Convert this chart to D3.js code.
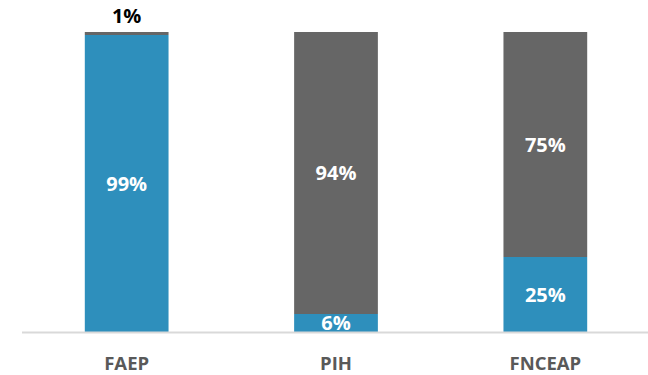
<!DOCTYPE html>
<html>
<head>
<meta charset="utf-8">
<script src="https://cdn.jsdelivr.net/npm/d3@7"></script>
<style>
  html, body { margin: 0; padding: 0; background: #fff; }
  svg { display: block; }
  text { font-family: "Open Sans", Lato, "Liberation Sans", sans-serif; font-weight: bold; }
</style>
</head>
<body>
<svg id="chart" width="648" height="375"></svg>
<script>
// Programme categories and their share split (percent)
const categories = ["FAEP", "PIH", "FNCEAP"];
const blueShare = [99, 6, 25];
const grayShare = [1, 94, 75];

const W = 648, H = 375;
const margin = { top: 32, right: -2, bottom: 43, left: 22 };
const svg = d3.select("#chart");

const x = d3.scaleBand()
  .domain(categories)
  .range([margin.left, W - margin.right])
  .paddingInner(0.6)
  .paddingOuter(0.3);

const y = d3.scaleLinear()
  .domain([0, 100])
  .range([H - margin.bottom, margin.top]);

const rows = categories.map((c, i) => ({ cat: c, blue: blueShare[i], gray: grayShare[i] }));
const stack = d3.stack().keys(["blue", "gray"])(rows);
const colors = { blue: "#2e8fbc", gray: "#666666" };

// Stacked segments
svg.append("g").selectAll("g")
  .data(stack)
  .join("g")
  .attr("fill", d => colors[d.key])
  .selectAll("rect")
  .data(d => d)
  .join("rect")
  .attr("x", d => x(d.data.cat))
  .attr("width", x.bandwidth())
  .attr("y", d => y(d[1]))
  .attr("height", d => y(d[0]) - y(d[1]));

// Baseline
svg.append("line")
  .attr("x1", margin.left).attr("x2", W)
  .attr("y1", y(0) + 0.5).attr("y2", y(0) + 0.5)
  .attr("stroke", "#d9d9d9").attr("stroke-width", 2);

// Category axis labels
const xAxis = d3.axisBottom(x).tickSize(0).tickPadding(25);
const gx = svg.append("g")
  .attr("transform", `translate(0,${y(0)})`)
  .call(xAxis);
gx.select(".domain").remove();
gx.selectAll("text")
  .attr("fill", "#595959")
  .style("font-size", "18.5px")
  .style("font-family", "'Open Sans', Lato, sans-serif")
  .style("font-weight", "bold");

// Value labels
const labels = [];
stack.forEach(layer => {
  layer.forEach(d => {
    const v = d.data[layer.key];
    labels.push({ cat: d.data.cat, v, y0: d[0], y1: d[1] });
  });
});

svg.append("g").selectAll("text")
  .data(labels)
  .join("text")
  .attr("x", d => x(d.cat) + x.bandwidth() / 2)
  .attr("y", d => d.v < 3 ? y(d.y1) - 16 : (y(d.y0) + y(d.y1)) / 2)
  .attr("dy", "0.36em")
  .attr("text-anchor", "middle")
  .attr("fill", d => d.v < 3 ? "#000" : "#fff")
  .style("font-size", "20px")
  .text(d => d.v + "%");
</script>
</body>
</html>
